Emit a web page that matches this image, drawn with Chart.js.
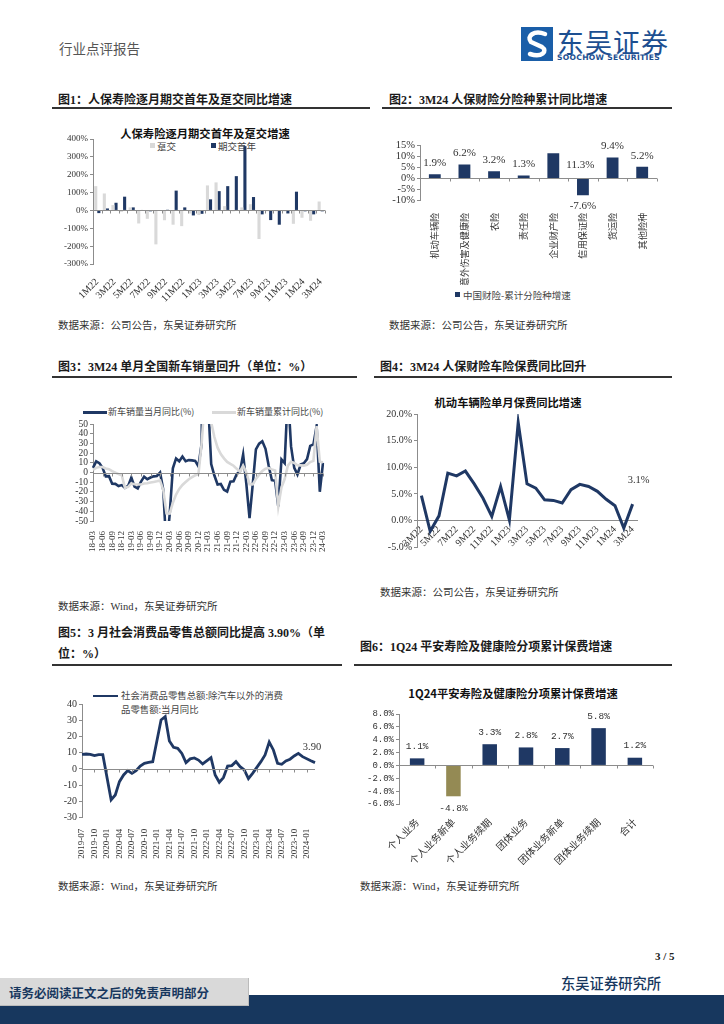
<!DOCTYPE html>
<html>
<head>
<meta charset="utf-8">
<script src="https://cdn.jsdelivr.net/npm/chart.js@4.4.1/dist/chart.umd.min.js"></script>
<style>
  body { margin: 0; background: #fff; }
  #page { position: relative; width: 724px; height: 1024px; overflow: hidden; font-family: 'Liberation Serif', 'Noto Sans CJK SC', serif; color: #222; }
  .abs { position: absolute; white-space: nowrap; }
  .cjk { font-family: 'Noto Sans CJK SC', sans-serif; }
  .head { font-family: 'Liberation Serif', 'Noto Sans CJK SC'; font-weight: 700; font-size: 12px; color: #1a1a1a; }
  .src { font-family: 'Liberation Serif', 'Noto Sans CJK SC'; font-size: 10.5px; color: #333; }
  .rule { position: absolute; height: 1.5px; background: #333; }
  .ttl { font-family: 'Noto Sans CJK SC'; font-weight: 700; font-size: 11.3px; color: #111; transform: translate(-50%, -50%); }
  .leg { font-family: 'Noto Sans CJK SC'; font-size: 9.5px; color: #444; }
  canvas { position: absolute; }
</style>
</head>
<body>
<div id="page">
  <div class="abs cjk" style="left:59px;top:38px;font-size:13.5px;color:#555;">行业点评报告</div>
  <svg class="abs" style="left:521px;top:27px" width="32" height="34" viewBox="0 0 32 34">
    <rect width="32" height="34" fill="#1a5ea8"/>
    <path d="M24 7 C13 3 5 9 10 15 L21 20 C27 24 21 31 9 27" stroke="#fff" stroke-width="4.5" fill="none" stroke-linecap="round"/>
  </svg>
  <div class="abs cjk" style="left:557px;top:22px;font-size:27px;color:#1d4f91;letter-spacing:1px;">东吴证券</div>
  <div class="abs" style="left:557px;top:53px;font-family:'DejaVu Sans';font-weight:700;font-size:7.6px;color:#1d4f91;letter-spacing:0.3px;">SOOCHOW SECURITIES</div>

  <div class="abs head" style="left:58px;top:90px;">图1：人保寿险逐月期交首年及趸交同比增速</div>
  <div class="abs head" style="left:389px;top:90px;">图2：3M24 人保财险分险种累计同比增速</div>
  <div class="rule" style="left:52px;top:107px;width:318px;"></div>
  <div class="rule" style="left:382px;top:107px;width:290px;"></div>

  <div class="abs ttl" style="left:205px;top:133px;">人保寿险逐月期交首年及趸交增速</div>
  <div class="abs" style="left:150px;top:143px;width:5px;height:5px;background:#d9d9d9;"></div>
  <div class="abs leg" style="left:157px;top:139px;">趸交</div>
  <div class="abs" style="left:211px;top:143px;width:5px;height:5px;background:#1f3864;"></div>
  <div class="abs leg" style="left:218px;top:139px;">期交首年</div>
  <canvas id="c1" width="280" height="180" style="left:55px;top:125px;"></canvas>

  <div class="abs" style="left:455px;top:292px;width:5px;height:5px;background:#1f3864;"></div>
  <div class="abs leg" style="left:463px;top:288px;">中国财险-累计分险种增速</div>
  <canvas id="c2" width="300" height="160" style="left:380px;top:125px;"></canvas>

  <div class="abs src" style="left:58px;top:317px;">数据来源：公司公告，东吴证券研究所</div>
  <div class="abs src" style="left:389px;top:317px;">数据来源：公司公告，东吴证券研究所</div>

  <div class="abs head" style="left:58px;top:357px;">图3：3M24 单月全国新车销量回升（单位：%）</div>
  <div class="abs head" style="left:380px;top:357px;">图4：3M24 人保财险车险保费同比回升</div>
  <div class="rule" style="left:52px;top:376px;width:305px;"></div>
  <div class="rule" style="left:374px;top:376px;width:298px;"></div>

  <div class="abs" style="left:83px;top:411px;width:24px;height:2.6px;background:#1f3864;"></div>
  <div class="abs leg" style="left:108px;top:405px;font-size:9px;">新车销量当月同比(%)</div>
  <div class="abs" style="left:212px;top:411px;width:24px;height:2.6px;background:#d9d9d9;"></div>
  <div class="abs leg" style="left:237px;top:405px;font-size:9px;">新车销量累计同比(%)</div>
  <canvas id="c3" width="300" height="155" style="left:60px;top:400px;"></canvas>

  <div class="abs ttl" style="left:508px;top:402px;">机动车辆险单月保费同比增速</div>
  <canvas id="c4" width="300" height="150" style="left:380px;top:405px;"></canvas>

  <div class="abs src" style="left:58px;top:598px;">数据来源：Wind，东吴证券研究所</div>
  <div class="abs src" style="left:380px;top:584px;">数据来源：公司公告，东吴证券研究所</div>

  <div class="abs head" style="left:58px;top:623px;">图5：3 月社会消费品零售总额同比提高 3.90%（单</div>
  <div class="abs head" style="left:58px;top:644px;">位：%）</div>
  <div class="abs head" style="left:360px;top:637px;">图6：1Q24 平安寿险及健康险分项累计保费增速</div>
  <div class="rule" style="left:52px;top:664px;width:290px;"></div>
  <div class="rule" style="left:354px;top:664px;width:318px;"></div>

  <div class="abs" style="left:93px;top:694.5px;width:25px;height:2.8px;background:#1f3864;"></div>
  <div class="abs leg" style="left:121px;top:689px;line-height:13.6px;font-size:9.4px;">社会消费品零售总额:除汽车以外的消费<br>品零售额:当月同比</div>
  <canvas id="c5" width="290" height="175" style="left:55px;top:690px;"></canvas>

  <div class="abs ttl" style="left:513px;top:693px;">1Q24平安寿险及健康险分项累计保费增速</div>
  <canvas id="c6" width="320" height="160" style="left:360px;top:705px;"></canvas>

  <div class="abs src" style="left:58px;top:878px;">数据来源：Wind，东吴证券研究所</div>
  <div class="abs src" style="left:360px;top:878px;">数据来源：Wind，东吴证券研究所</div>

  <div class="abs" style="left:655px;top:950px;font-weight:700;font-size:11px;">3 / 5</div>
  <div class="abs" style="left:0;top:995px;width:724px;height:29px;background:#17375e;"></div>
  <div class="abs" style="left:0;top:978px;width:248px;height:27px;background:#d9d9d9;border-right:1px solid #bbb;border-bottom:1px solid #bbb;"></div>
  <div class="abs" style="left:9px;top:983px;font-family:'Noto Sans CJK SC';font-weight:700;font-size:12.5px;color:#17375e;">请务必阅读正文之后的免责声明部分</div>
  <div class="abs cjk" style="left:561px;top:972px;font-size:14.3px;color:#17375e;font-weight:500;">东吴证券研究所</div>
</div>

<script>
// ---- 数据 ----
const months1 = ['1M22','2M22','3M22','4M22','5M22','6M22','7M22','8M22','9M22','10M22','11M22','12M22',
  '1M23','2M23','3M23','4M23','5M23','6M23','7M23','8M23','9M23','10M23','11M23','12M23','1M24','2M24','3M24'];
const dunjiao = [136, 95, 30, -8, 17, -73, -47, -190, -55, -80, -88, -17, -26, 140, 157, 24, -5, 17, 35, -160, -5, -5, -5, -75, -41, -58, 50];
const qijiaoFirstYear = [-15, 11, 43, 77, 17, 3, -5, -3, 4, 111, 17, -28, -19, 62, 108, 136, 192, 360, 75, -22, -54, -80, -17, 105, -5, -22, -5];

const lines2 = ['机动车辆险','意外伤害及健康险','农险','责任险','企业财产险','信用保证险','货运险','其他险种'];
const growth2 = [1.9, 6.2, 3.2, 1.3, 11.3, -7.6, 9.4, 5.2];

const months3 = [];
for (let y = 18; y <= 24; y++) for (let m = 1; m <= 12; m++) {
  if ((y === 18 && m < 3) || (y === 24 && m > 3)) continue;
  months3.push(y + '-' + String(m).padStart(2, '0'));
}
const carMonthly = [4.7, 11.5, 9.6, 4.8, -4.0, -3.8, -11.6, -11.7, -13.9, -13.0,
  -15.8, -13.8, -5.2, -14.6, -16.4, -9.6, -4.3, -6.9, -5.2, -4.0, -3.6, 0.0,
  -18.0, -79.1, -43.3, 4.4, 14.5, 11.6, 16.4, 11.6, 12.8, 12.5, 12.0, 6.4,
  29.5, 364.6, 74.9, 8.6, -3.1, -12.4, -11.9, -17.8, -19.6, -9.4, -9.1, -1.6,
  0.9, 18.7, -11.7, -47.1, -12.6, 23.8, 29.7, 32.1, 24.4, 6.9, -7.9, -8.4,
  -35.0, 13.5, 9.7, 82.7, 26.9, 4.8, -2.0, 8.2, 9.5, 13.8, 27.4, 29.0,
  47.9, -19.9, 9.9];
const carCumulative = [2.8, 4.8, 5.6, 5.6, 4.2, 3.5, 1.5, -0.1, -1.7, -2.8,
  -15.8, -14.9, -11.3, -12.1, -12.4, -12.4, -11.4, -11.0, -10.3, -9.7, -9.1, -8.2,
  -18.0, -42.0, -42.4, -31.1, -22.8, -16.9, -12.8, -9.8, -6.9, -4.7, -2.9, -1.9,
  29.5, 76.0, 75.6, 51.8, 36.6, 25.6, 19.0, 14.6, 10.9, 8.8, 7.0, 3.8,
  0.9, 7.0, 0.0, -12.1, -12.2, -6.6, -2.2, 1.5, 4.0, 4.6, 3.2, 2.1,
  -35.0, -15.2, -6.7, 7.1, 11.1, 9.8, 7.4, 7.3, 7.1, 8.0, 10.8, 12.0,
  47.9, 11.1, 10.6];

const months4 = ['3M22','4M22','5M22','6M22','7M22','8M22','9M22','10M22','11M22','12M22',
  '1M23','2M23','3M23','4M23','5M23','6M23','7M23','8M23','9M23','10M23','11M23','12M23','1M24','2M24','3M24'];
const motorPremium = [4.7, -2.0, 0.9, 8.9, 8.4, 9.3, 6.9, 4.2, 0.8, 6.4, 0.1, 18.4, 6.9, 6.1, 3.9, 3.8, 3.3, 5.8, 6.8, 6.4, 5.5, 4.0, 2.8, -1.4, 3.1];

const months5 = [];
for (let y = 2019; y <= 2024; y++) for (let m = 1; m <= 12; m++) {
  if ((y === 2019 && m < 7) || (y === 2024 && m > 3)) continue;
  months5.push(y + '-' + String(m).padStart(2, '0'));
}
const retailExAuto = [9.0, 9.2, 9.0, 8.2, 8.8, 8.8,
  null, -19.0, -16.0, -7.8, -3.7, -1.0, -2.7, -1.0, 1.8, 3.5, 4.1, 4.5,
  null, 30.2, 32.2, 17.2, 13.3, 12.7, 9.6, 3.9, 6.2, 6.8, 5.5, 3.1,
  null, 7.0, -3.7, -8.2, -5.3, 1.8, 2.1, 4.5, 1.4, -0.6, -6.0, -2.7,
  null, 4.5, 8.6, 16.6, 11.7, 3.5, 2.9, 4.9, 6.0, 8.0, 9.6, 7.6,
  null, 5.0, 3.9];

const items6 = ['个人业务','个人业务新单','个人业务续期','团体业务','团体业务新单','团体业务续期','合计'];
const growth6 = [1.1, -4.8, 3.3, 2.8, 2.7, 5.8, 1.2];

// ---- 公共 ----
const NAVY = '#1f3864';
const LIGHT = '#d9d9d9';
const AXIS = '#8c8c8c';
const SERIF = "'Liberation Serif', 'Noto Sans CJK SC', serif";
const CJK = "'Noto Sans CJK SC', sans-serif";
const MONO = "'Liberation Mono', 'Noto Sans CJK SC', monospace";

Chart.defaults.animation = false;
Chart.defaults.color = '#333';
Chart.defaults.font.family = SERIF;
Chart.defaults.plugins.legend.display = false;
Chart.defaults.plugins.tooltip.enabled = false;

// 横轴线画在 0 处（Excel 风格），带小刻度
const zeroLine = {
  id: 'zeroLine',
  afterDatasetsDraw(chart, args, o) {
    if (!o || !o.show) return;
    const {ctx, chartArea: a, scales: {x, y}} = chart;
    const py = Math.round(y.getPixelForValue(0)) + 0.5;
    const n = chart.data.labels.length;
    ctx.save();
    ctx.strokeStyle = o.color || AXIS;
    ctx.lineWidth = 1;
    ctx.beginPath();
    ctx.moveTo(a.left, py);
    ctx.lineTo(a.right, py);
    if (o.between) {
      const w = (a.right - a.left) / n;
      for (let i = 0; i <= n; i++) {
        const px = Math.round(a.left + w * i) + 0.5;
        ctx.moveTo(px, py); ctx.lineTo(px, py + o.tick);
      }
    } else {
      for (let i = 0; i < n; i += o.every) {
        const px = Math.round(x.getPixelForValue(i)) + 0.5;
        ctx.moveTo(px, py); ctx.lineTo(px, py + o.tick);
      }
    }
    ctx.stroke();
    ctx.restore();
  }
};

// 数据标签
const valueLabels = {
  id: 'valueLabels',
  afterDatasetsDraw(chart, args, o) {
    if (!o || !o.show) return;
    const ctx = chart.ctx;
    ctx.save();
    ctx.font = o.font;
    ctx.fillStyle = o.color || '#333';
    ctx.textAlign = 'center';
    ctx.textBaseline = 'middle';
    chart.data.datasets.forEach((ds, di) => {
      chart.getDatasetMeta(di).data.forEach((el, i) => {
        if (o.only && !o.only.includes(i)) return;
        const v = ds.data[i];
        if (v == null) return;
        const s = (o.shift && o.shift[i]) || [0, 0];
        const y = v >= 0 ? el.y - o.gap : el.y + o.gap;
        ctx.fillText(o.format(v), el.x + s[0], y + s[1]);
      });
    });
    ctx.restore();
  }
};
Chart.register(zeroLine, valueLabels);

const fixY = w => s => { s.width = w; s.paddingTop = 0; s.paddingBottom = 0; };
const fixX = h => s => { s.height = h; s.paddingLeft = 0; s.paddingRight = 0; };

function yAxis(min, max, step, width, fmt, font) {
  return {
    min, max,
    ticks: { stepSize: step, autoSkip: false, callback: fmt, font, color: '#333', padding: 2 },
    grid: { drawOnChartArea: false, drawTicks: true, tickLength: 3, color: AXIS },
    border: { color: AXIS },
    afterFit: fixY(width)
  };
}

// ---- 图1 ----
new Chart(document.getElementById('c1'), {
  type: 'bar',
  data: {
    labels: months1,
    datasets: [
      { label: '趸交', data: dunjiao, backgroundColor: LIGHT, categoryPercentage: 0.72, barPercentage: 1 },
      { label: '期交首年', data: qijiaoFirstYear, backgroundColor: NAVY, categoryPercentage: 0.72, barPercentage: 1 }
    ]
  },
  options: {
    responsive: false,
    layout: { padding: { left: 0, top: 14, right: 10, bottom: 0 } },
    scales: {
      x: {
        grid: { display: false }, border: { display: false },
        ticks: { autoSkip: false, maxRotation: 45, minRotation: 45, padding: 4, font: { size: 10 },
          callback(v, i) { return i % 2 === 0 ? months1[i] : ''; } },
        afterFit: fixX(41)
      },
      y: yAxis(-300, 400, 100, 38, v => v + '%', { size: 9 })
    },
    plugins: { zeroLine: { show: true, between: true, tick: 3 } }
  }
});

// ---- 图2 ----
new Chart(document.getElementById('c2'), {
  type: 'bar',
  data: {
    labels: lines2,
    datasets: [{ label: '中国财险-累计分险种增速', data: growth2, backgroundColor: NAVY, categoryPercentage: 0.8, barPercentage: 0.5 }]
  },
  options: {
    responsive: false,
    layout: { padding: { left: 0, top: 20, right: 23, bottom: 0 } },
    scales: {
      x: {
        grid: { display: false }, border: { display: false },
        ticks: { autoSkip: false, maxRotation: 90, minRotation: 90, padding: 4, font: { family: CJK, size: 9.2 } },
        afterFit: fixX(84.3)
      },
      y: yAxis(-10, 15, 5, 40, v => v + '%', { size: 10.5 })
    },
    plugins: {
      zeroLine: { show: true, between: true, tick: 3 },
      valueLabels: { show: true, font: "11px " + SERIF, gap: 11, format: v => v.toFixed(1) + '%',
        shift: { 4: [27, 23] } }
    }
  }
});

// ---- 图3 ----
new Chart(document.getElementById('c3'), {
  type: 'line',
  data: {
    labels: months3,
    datasets: [
      { label: '新车销量当月同比(%)', data: carMonthly, borderColor: NAVY, borderWidth: 2.6, pointRadius: 0, order: 1 },
      { label: '新车销量累计同比(%)', data: carCumulative, borderColor: LIGHT, borderWidth: 2.6, pointRadius: 0, order: 0 }
    ]
  },
  options: {
    responsive: false,
    layout: { padding: { left: 0, top: 24, right: 37, bottom: 0 } },
    scales: {
      x: {
        grid: { display: false }, border: { display: false },
        ticks: { autoSkip: false, maxRotation: 90, minRotation: 90, padding: 2, font: { size: 9 },
          callback(v, i) { return i % 3 === 0 ? months3[i] : ''; } },
        afterFit: fixX(34)
      },
      y: yAxis(-50, 50, 10, 33, v => v, { size: 9.5 })
    },
    plugins: { zeroLine: { show: true, every: 3, tick: 3 } }
  }
});

// ---- 图4 ----
new Chart(document.getElementById('c4'), {
  type: 'line',
  data: {
    labels: months4,
    datasets: [{ label: '机动车辆险单月保费同比增速', data: motorPremium, borderColor: NAVY, borderWidth: 3, pointRadius: 0 }]
  },
  options: {
    responsive: false,
    layout: { padding: { left: 0, top: 9, right: 43, bottom: 7.7 } },
    scales: {
      x: {
        position: { y: 0 }, offset: true,
        grid: { drawOnChartArea: false, drawTicks: false }, border: { color: AXIS },
        ticks: { autoSkip: false, maxRotation: 45, minRotation: 45, padding: 3, font: { size: 10 },
          callback(v, i) { return i % 2 === 0 ? months4[i] : ''; } },
        afterFit: fixX(30)
      },
      y: yAxis(-5, 20, 5, 37, v => v.toFixed(1) + '%', { size: 10 })
    },
    plugins: {
      valueLabels: { show: true, only: [months4.length - 1], font: "10.5px " + SERIF, gap: 24, shift: { [months4.length - 1]: [6, 0] },
        format: v => v.toFixed(1) + '%' }
    }
  }
});

// ---- 图5 ----
new Chart(document.getElementById('c5'), {
  type: 'line',
  data: {
    labels: months5,
    datasets: [{ label: '社会消费品零售总额:除汽车以外的消费品零售额:当月同比', data: retailExAuto, borderColor: NAVY, borderWidth: 2.8, pointRadius: 0, spanGaps: true }]
  },
  options: {
    responsive: false,
    layout: { padding: { left: 0, top: 14, right: 30, bottom: 0 } },
    scales: {
      x: {
        grid: { display: false }, border: { display: false },
        ticks: { autoSkip: false, maxRotation: 90, minRotation: 90, padding: 3, font: { size: 9 },
          callback(v, i) { return i % 3 === 0 ? months5[i] : ''; } },
        afterFit: fixX(47.3)
      },
      y: yAxis(-30, 40, 10, 27, v => v, { size: 10 })
    },
    plugins: {
      zeroLine: { show: true, every: 3, tick: 3 },
      valueLabels: { show: true, only: [months5.length - 1], font: "10.5px " + SERIF, gap: 15, shift: { [months5.length - 1]: [-3, 0] },
        format: v => v.toFixed(2) }
    }
  }
});

// ---- 图6 ----
new Chart(document.getElementById('c6'), {
  type: 'bar',
  data: {
    labels: items6,
    datasets: [{ label: '1Q24平安寿险及健康险分项累计保费增速', data: growth6,
      backgroundColor: growth6.map(v => v < 0 ? '#948a54' : NAVY), categoryPercentage: 0.8, barPercentage: 0.5 }]
  },
  options: {
    responsive: false,
    layout: { padding: { left: 0, top: 9, right: 27, bottom: 0 } },
    scales: {
      x: {
        grid: { display: false }, border: { display: false },
        ticks: { autoSkip: false, maxRotation: 45, minRotation: 45, padding: 4, font: { family: CJK, size: 10 } },
        afterFit: fixX(61)
      },
      y: yAxis(-6, 8, 2, 39, v => v.toFixed(1) + '%', { family: MONO, size: 9 })
    },
    plugins: {
      zeroLine: { show: true, between: true, tick: 3 },
      valueLabels: { show: true, font: "9.5px " + MONO, gap: 12, format: v => v.toFixed(1) + '%' }
    }
  }
});
</script>
</body>
</html>
